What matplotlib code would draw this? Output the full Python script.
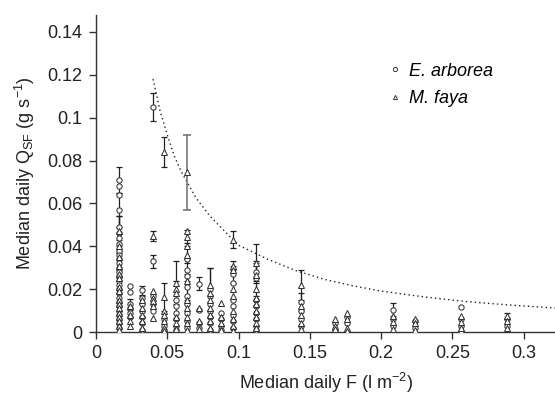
import matplotlib
matplotlib.use('Agg')
import matplotlib.pyplot as plt
from matplotlib.lines import Line2D

# niveaux de F (l m-2) ou les points sont empiles
f_levels = [0.016, 0.024, 0.032, 0.040, 0.048, 0.056, 0.064, 0.072, 0.080, 0.088,
            0.096, 0.112, 0.144, 0.168, 0.176, 0.208, 0.224, 0.256, 0.288]

# E. arborea : Q_SF median par niveau de F
arborea_q = [
    [0.071, 0.068, 0.064, 0.057, 0.049, 0.046, 0.044, 0.041, 0.038, 0.036, 0.034, 0.032,
     0.030, 0.028, 0.026, 0.024, 0.022, 0.020, 0.018, 0.016, 0.014, 0.012, 0.010, 0.008,
     0.006, 0.004, 0.002],
    [0.0215, 0.0185, 0.013, 0.011, 0.009, 0.007],
    [0.0195, 0.016, 0.013, 0.010, 0.007, 0.004, 0.001],
    [0.105, 0.033, 0.017, 0.013, 0.010],
    [0.006, 0.003, 0.001],
    [0.015, 0.012, 0.009, 0.006, 0.003, 0.001],
    [0.034, 0.029, 0.026, 0.021, 0.017, 0.013, 0.009, 0.005, 0.002],
    [0.0225, 0.0105, 0.004, 0.002],
    [0.020, 0.017, 0.013, 0.010, 0.007, 0.004, 0.001],
    [0.009, 0.006, 0.003, 0.001],
    [0.027, 0.023, 0.015, 0.012, 0.008, 0.005, 0.002],
    [0.028, 0.025, 0.015, 0.012, 0.009, 0.006, 0.003, 0.001],
    [0.014, 0.010, 0.006, 0.003],
    [0.004, 0.001],
    [0.007, 0.004],
    [0.0105, 0.006, 0.003],
    [0.005, 0.002],
    [0.0115, 0.006, 0.003, 0.0005],
    [0.006, 0.003],
]

# M. faya
faya_q = [
    [0.047, 0.040, 0.035, 0.031, 0.027, 0.025, 0.021, 0.019, 0.015, 0.013, 0.011, 0.009,
     0.007, 0.005, 0.003, 0.001],
    [0.012, 0.008, 0.005, 0.003],
    [0.015, 0.011, 0.008, 0.005, 0.002],
    [0.045, 0.019, 0.016, 0.0145, 0.012, 0.0065],
    [0.084, 0.0165, 0.010, 0.008, 0.005, 0.002, 0.0005],
    [0.023, 0.020, 0.018, 0.007, 0.004, 0.0015],
    [0.0745, 0.047, 0.0445, 0.040, 0.036, 0.024, 0.015, 0.011, 0.007, 0.004, 0.001],
    [0.011, 0.005, 0.0015],
    [0.022, 0.018, 0.015, 0.011, 0.008, 0.005, 0.002],
    [0.0135, 0.007, 0.004, 0.001],
    [0.043, 0.031, 0.029, 0.020, 0.017, 0.010, 0.006, 0.003, 0.0005],
    [0.032, 0.0265, 0.020, 0.016, 0.013, 0.010, 0.007, 0.004, 0.002],
    [0.022, 0.012, 0.008, 0.004, 0.0015],
    [0.006, 0.003, 0.0015],
    [0.009, 0.006, 0.002, 0.0005],
    [0.0075, 0.0045, 0.0015],
    [0.006, 0.004, 0.001],
    [0.0075, 0.0045, 0.002],
    [0.0075, 0.005, 0.002],
]

# barres d'erreur (F, Q, erreur)
arb_err_f = [0.040, 0.040, 0.016, 0.016, 0.016, 0.016, 0.024, 0.032, 0.056, 0.064, 0.064,
             0.072, 0.080, 0.096, 0.112, 0.112, 0.144, 0.208]
arb_err_q = [0.105, 0.033, 0.071, 0.057, 0.046, 0.036, 0.013, 0.0195, 0.015, 0.029, 0.021,
             0.0225, 0.020, 0.027, 0.028, 0.025, 0.014, 0.0105]
arb_err_e = [0.0065, 0.003, 0.006, 0.008, 0.008, 0.007, 0.0025, 0.002, 0.009, 0.005, 0.006,
             0.003, 0.010, 0.004, 0.004, 0.008, 0.004, 0.003]

faya_err_f = [0.048, 0.096, 0.040, 0.016, 0.016, 0.048, 0.056, 0.064, 0.064, 0.080, 0.112,
              0.144, 0.288, 0.096, 0.032]
faya_err_q = [0.084, 0.043, 0.045, 0.047, 0.031, 0.0165, 0.023, 0.0445, 0.036, 0.022, 0.032,
              0.022, 0.0075, 0.031, 0.015]
faya_err_e = [0.0068, 0.004, 0.0023, 0.007, 0.006, 0.0065, 0.010, 0.003, 0.004, 0.008, 0.009,
              0.007, 0.0015, 0.002, 0.002]

# grosse barre grise (M. faya, F = 0.064)
faya_grey_f = [0.064]
faya_grey_q = [0.0745]
faya_grey_e = [0.0175]

# courbe enveloppe pointillee
curve_f = [0.040, 0.045, 0.050, 0.055, 0.060, 0.070, 0.080, 0.090, 0.100, 0.120, 0.140,
           0.160, 0.180, 0.200, 0.230, 0.260, 0.290, 0.322]
curve_q = [0.118, 0.103, 0.092, 0.082, 0.0746, 0.0627, 0.054, 0.0472, 0.0405, 0.0341, 0.0287,
           0.0246, 0.0216, 0.0191, 0.0164, 0.0142, 0.0126, 0.0112]

plt.rcParams['font.family'] = ['Liberation Sans', 'DejaVu Sans']
plt.rcParams['mathtext.default'] = 'regular'

fs = 13

fig = plt.figure(figsize=(5.55, 4.01), dpi=100)
ax = fig.add_axes([0.173, 0.172, 0.827, 0.791])

edge = '#333333'
ms = 3.8

ax.errorbar(arb_err_f, arb_err_q, yerr=arb_err_e, fmt='none', ecolor='#222222',
            elinewidth=0.9, capsize=2.5, capthick=0.9, zorder=2)
ax.errorbar(faya_err_f, faya_err_q, yerr=faya_err_e, fmt='none', ecolor='#222222',
            elinewidth=0.9, capsize=2.5, capthick=0.9, zorder=2)
ax.errorbar(faya_grey_f, faya_grey_q, yerr=faya_grey_e, fmt='none', ecolor='#777777',
            elinewidth=1.2, capsize=3, capthick=1.2, zorder=2)

for f, qa, qf in zip(f_levels, arborea_q, faya_q):
    ax.plot([f] * len(qa), qa, 'o', ms=ms, mfc='white', mec=edge, mew=0.75, ls='none', zorder=3)
    ax.plot([f] * len(qf), qf, '^', ms=ms, mfc='white', mec=edge, mew=0.75, ls='none', zorder=3)

ax.plot(curve_f, curve_q, ls=(0, (1, 2.2)), color='#222222', lw=1.0, zorder=1)

ax.set_xlim(0, 0.322)
ax.set_ylim(0, 0.148)
ax.set_xticks([0, 0.05, 0.1, 0.15, 0.2, 0.25, 0.3])
ax.set_xticklabels(['0', '0.05', '0.1', '0.15', '0.2', '0.25', '0.3'])
ax.set_yticks([0, 0.02, 0.04, 0.06, 0.08, 0.1, 0.12, 0.14])
ax.set_yticklabels(['0', '0.02', '0.04', '0.06', '0.08', '0.1', '0.12', '0.14'])

for s in ['top', 'right']:
    ax.spines[s].set_visible(False)
for s in ['left', 'bottom']:
    ax.spines[s].set_color('#333333')
    ax.spines[s].set_linewidth(1.0)
ax.tick_params(direction='out', length=5, width=1.0, color='#333333', labelsize=fs,
               labelcolor='#222222')
ax.tick_params(axis='x', pad=4)
ax.tick_params(axis='y', pad=5)

ax.set_xlabel('Median daily F (l m$^{-2}$)', fontsize=fs, color='#222222', labelpad=7)
ax.set_ylabel('Median daily Q$_{SF}$ (g s$^{-1}$)', fontsize=fs, color='#222222', labelpad=7)

handles = [
    Line2D([], [], marker='o', ls='none', ms=3, mfc='white', mec=edge, mew=0.7),
    Line2D([], [], marker='^', ls='none', ms=3, mfc='white', mec=edge, mew=0.7),
]
ax.legend(handles, ['E. arborea', 'M. faya'], loc='upper left', bbox_to_anchor=(0.60, 0.90),
          frameon=False, prop={'style': 'italic', 'size': fs}, handlelength=0.8,
          handletextpad=0.4, labelspacing=0.56)

plt.savefig('out.png', dpi=100)
plt.close()
